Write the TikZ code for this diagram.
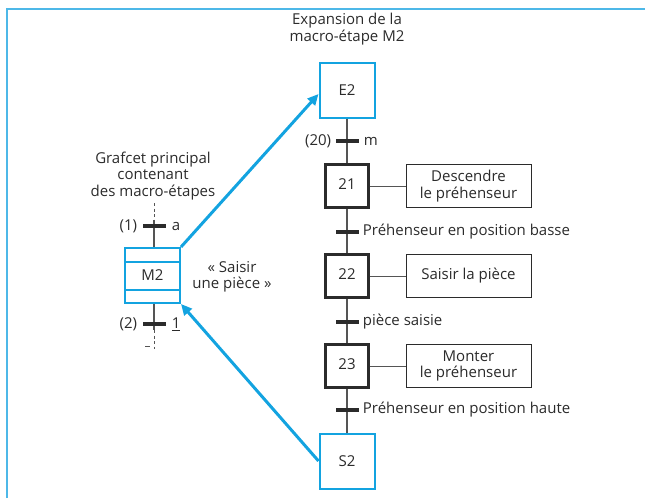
\documentclass[tikz,border=0pt]{standalone}
\usepackage{fontspec}
\setmainfont{Open Sans}
\usetikzlibrary{arrows.meta,calc}
\definecolor{cyanline}{HTML}{13A3E0}
\definecolor{frameblue}{HTML}{4DB8E8}
\definecolor{inkdark}{HTML}{2B2B2B}
\definecolor{linkgray}{HTML}{555555}
\tikzset{
  txt/.style={text=inkdark,font=\fontsize{15}{16.5}\selectfont,inner sep=0pt},
  macrobox/.style={draw=cyanline,line width=2pt,fill=white,minimum width=55pt,minimum height=55pt,txt},
  stepbox/.style={draw=inkdark,line width=2.2pt,fill=white,minimum width=43pt,minimum height=43pt,txt},
  actionbox/.style={draw=inkdark,line width=0.9pt,fill=white,minimum width=125pt,minimum height=43pt,align=center,txt},
  transbar/.style={fill=inkdark,draw=none,minimum width=23pt,minimum height=4pt,inner sep=0pt},
  link/.style={draw=linkgray,line width=1.2pt},
  bluearrow/.style={draw=cyanline,line width=3pt,-{Triangle[length=11pt,width=10pt]}},
}
\newcommand{\stepnum}[1]{\raisebox{4pt}{#1}}
\begin{document}
\begin{tikzpicture}[x=1pt,y=-1pt]
\useasboundingbox (0,0) rectangle (645,498);
% outer frame
\draw[frameblue,line width=1.6pt] (7,498) -- (7,9) -- (645,9);

% titles
\node[txt,align=center] (titleR) at (347,29) {Expansion de la\\macro-étape M2};
\node[txt,align=center] (titleL) at (153,176) {Grafcet principal\\contenant\\des macro-étapes};

% expanded macro-step
\node[macrobox] (E2) at (347,90) {E2};
\node[stepbox] (s21) at (347,186) {\stepnum{21}};
\node[stepbox] (s22) at (347,276) {\stepnum{22}};
\node[stepbox] (s23) at (347,366) {\stepnum{23}};
\node[macrobox] (S2) at (347,461) {S2};

\draw[link] (E2.south) -- (s21.north);
\draw[link] (s21.south) -- (s22.north);
\draw[link] (s22.south) -- (s23.north);
\draw[link] (s23.south) -- (S2.north);

\node[transbar] (t20) at (347,141) {};
\node[transbar] (t21) at (347,232) {};
\node[transbar] (t22) at (347,322) {};
\node[transbar] (t23) at (347,410) {};

\node[txt,anchor=east] (t20num) at ([xshift=-4pt]t20.west) {(20)};
\node[txt,anchor=west] (t20rec) at ([xshift=5pt]t20.east) {m};
\node[txt,anchor=west] (t21rec) at ([xshift=4pt]t21.east) {Préhenseur en position basse};
\node[txt,anchor=west] (t22rec) at ([xshift=4pt]t22.east) {pièce saisie};
\node[txt,anchor=west] (t23rec) at ([xshift=4pt]t23.east) {Préhenseur en position haute};

\node[actionbox] (a21) at (468.5,186) {Descendre\\le préhenseur};
\node[actionbox] (a22) at (468.5,276) {Saisir la pièce};
\node[actionbox] (a23) at (468.5,366) {Monter\\le préhenseur};
\draw[link,line width=0.9pt] (s21.east) -- (a21.west);
\draw[link,line width=0.9pt] (s22.east) -- (a22.west);
\draw[link,line width=0.9pt] (s23.east) -- (a23.west);

% main grafcet with the macro-step
\node[macrobox] (M2) at (152.5,275.5) {M2};
\draw[cyanline,line width=2pt] ($(M2.north west)+(0,15)$) -- ($(M2.north east)+(0,15)$);
\draw[cyanline,line width=2pt] ($(M2.south west)+(0,-14)$) -- ($(M2.south east)+(0,-14)$);
\node[txt,align=center] (M2note) at (232,277) {« Saisir\\une pièce »};

\coordinate (inTop) at (154,203);
\coordinate (inMid) at (154,220);
\coordinate (outMid) at (154,330);
\coordinate (outEnd) at (154,349);
\draw[link,dashed,line width=0.9pt,dash pattern=on 3pt off 2.5pt] (inTop) -- (inMid);
\draw[link] (inMid) -- (M2.north -| inMid);
\draw[link] (M2.south -| outMid) -- (outMid);
\draw[link,dashed,line width=0.9pt,dash pattern=on 3pt off 2.5pt] (outMid) -- (outEnd);
\node[transbar] (t1) at (154,226) {};
\node[transbar] (t2) at (154,324) {};
\node[txt,anchor=east] (t1num) at ([xshift=-5pt]t1.west) {(1)};
\node[txt,anchor=west] (t1rec) at ([xshift=6pt]t1.east) {a};
\node[txt,anchor=east] (t2num) at ([xshift=-5pt]t2.west) {(2)};
\node[txt,anchor=west] (t2rec) at ([xshift=6pt]t2.east) {\underline{1}};
\coordinate (tickA) at (145,346);
\coordinate (tickB) at (150,346);
\draw[link,line width=0.9pt] (tickA) -- (tickB);

% links between the macro-step and its expansion
\draw[bluearrow] (M2.north east) -- ($(E2.west)+(0,4)$);
\draw[bluearrow] (S2.west) -- (M2.south east);
\end{tikzpicture}
\end{document}
